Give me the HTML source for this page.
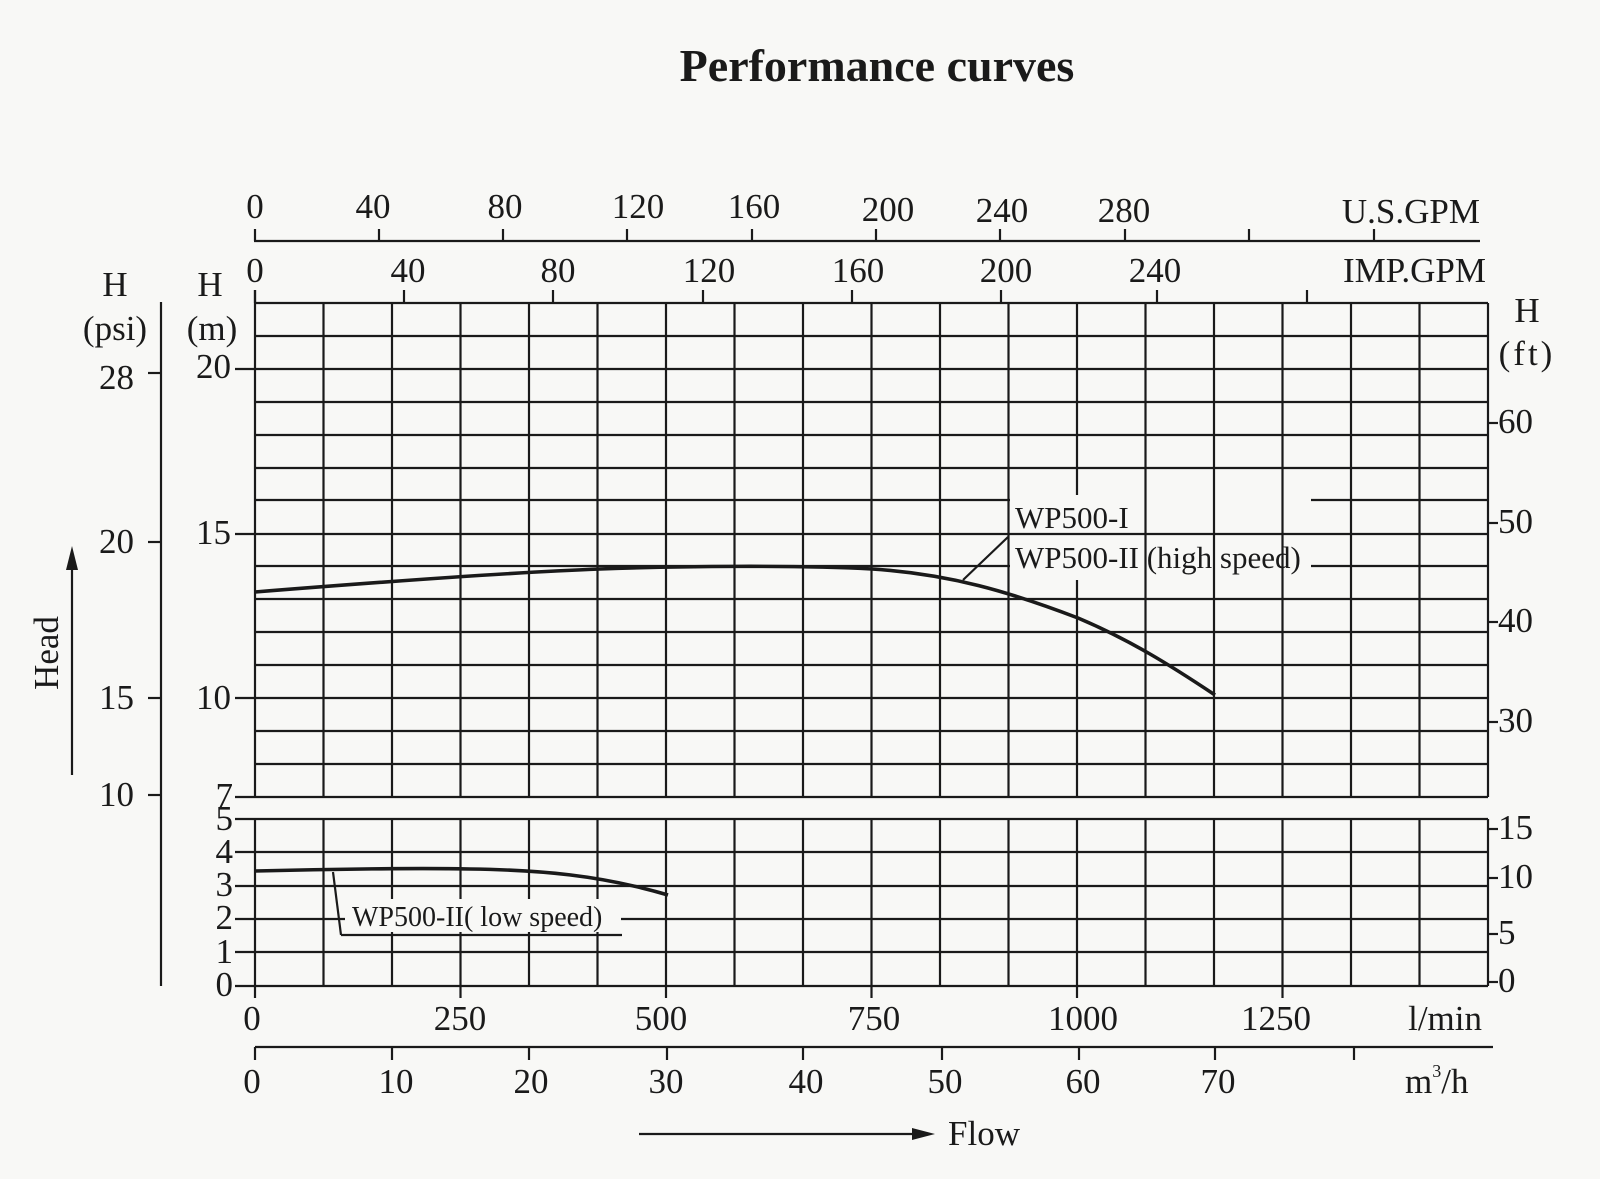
<!DOCTYPE html>
<html><head><meta charset="utf-8"><style>
html,body{margin:0;padding:0;background:#f8f8f6;}
svg{display:block;}
text{font-family:"Liberation Serif",serif;fill:#1a1a1a;}
</style></head><body>
<svg width="1600" height="1179" viewBox="0 0 1600 1179" xmlns="http://www.w3.org/2000/svg">
<rect width="1600" height="1179" fill="#f8f8f6"/>
<text x="877" y="81" font-size="46" font-weight="bold" text-anchor="middle">Performance curves</text>
<g stroke="#1a1a1a" stroke-width="2.2" fill="none">
<line x1="254" y1="241" x2="1480" y2="241"/>
<line x1="255" y1="229" x2="255" y2="241"/><line x1="379" y1="229" x2="379" y2="241"/><line x1="503" y1="229" x2="503" y2="241"/><line x1="627" y1="229" x2="627" y2="241"/><line x1="752" y1="229" x2="752" y2="241"/><line x1="876" y1="229" x2="876" y2="241"/><line x1="1000" y1="229" x2="1000" y2="241"/><line x1="1125" y1="229" x2="1125" y2="241"/><line x1="1249" y1="229" x2="1249" y2="241"/><line x1="1374" y1="229" x2="1374" y2="241"/>
<line x1="255" y1="290" x2="255" y2="303"/><line x1="404" y1="290" x2="404" y2="303"/><line x1="553" y1="290" x2="553" y2="303"/><line x1="703" y1="290" x2="703" y2="303"/><line x1="852" y1="290" x2="852" y2="303"/><line x1="1001" y1="290" x2="1001" y2="303"/><line x1="1157" y1="290" x2="1157" y2="303"/><line x1="1307" y1="290" x2="1307" y2="303"/>
<line x1="255" y1="303" x2="1488" y2="303"/>
<line x1="255" y1="336" x2="1488" y2="336"/>
<line x1="235" y1="369" x2="1488" y2="369"/>
<line x1="255" y1="402" x2="1488" y2="402"/>
<line x1="255" y1="435" x2="1488" y2="435"/>
<line x1="255" y1="468" x2="1488" y2="468"/>
<line x1="255" y1="500" x2="1010" y2="500"/><line x1="1311" y1="500" x2="1488" y2="500"/>
<line x1="235" y1="534" x2="1488" y2="534"/>
<line x1="255" y1="566" x2="1010" y2="566"/><line x1="1311" y1="566" x2="1488" y2="566"/>
<line x1="255" y1="599" x2="1488" y2="599"/>
<line x1="255" y1="632" x2="1488" y2="632"/>
<line x1="255" y1="665" x2="1488" y2="665"/>
<line x1="235" y1="698" x2="1488" y2="698"/>
<line x1="255" y1="731" x2="1488" y2="731"/>
<line x1="255" y1="764" x2="1488" y2="764"/>
<line x1="235" y1="797" x2="1488" y2="797"/>
<line x1="235" y1="819" x2="1488" y2="819"/>
<line x1="235" y1="852" x2="1488" y2="852"/>
<line x1="235" y1="886" x2="1488" y2="886"/>
<line x1="235" y1="919" x2="1488" y2="919"/>
<line x1="235" y1="952" x2="1488" y2="952"/>
<line x1="235" y1="986" x2="1488" y2="986"/>
<line x1="255" y1="290" x2="255" y2="797"/>
<line x1="323.5" y1="303" x2="323.5" y2="797"/>
<line x1="392" y1="303" x2="392" y2="797"/>
<line x1="460.5" y1="303" x2="460.5" y2="797"/>
<line x1="529" y1="303" x2="529" y2="797"/>
<line x1="597.5" y1="303" x2="597.5" y2="797"/>
<line x1="666" y1="303" x2="666" y2="797"/>
<line x1="734.5" y1="303" x2="734.5" y2="797"/>
<line x1="803" y1="303" x2="803" y2="797"/>
<line x1="871.5" y1="303" x2="871.5" y2="797"/>
<line x1="940" y1="303" x2="940" y2="797"/>
<line x1="1008.5" y1="303" x2="1008.5" y2="797"/>
<line x1="1077" y1="303" x2="1077" y2="495"/><line x1="1077" y1="580" x2="1077" y2="797"/>
<line x1="1145.5" y1="303" x2="1145.5" y2="797"/>
<line x1="1214" y1="303" x2="1214" y2="797"/>
<line x1="1282.5" y1="303" x2="1282.5" y2="797"/>
<line x1="1351" y1="303" x2="1351" y2="797"/>
<line x1="1419.5" y1="303" x2="1419.5" y2="797"/>
<line x1="1488" y1="303" x2="1488" y2="797"/>
<line x1="255" y1="819" x2="255" y2="998"/>
<line x1="323.5" y1="819" x2="323.5" y2="986"/>
<line x1="392" y1="819" x2="392" y2="986"/>
<line x1="460.5" y1="819" x2="460.5" y2="998"/>
<line x1="529" y1="819" x2="529" y2="986"/>
<line x1="597.5" y1="819" x2="597.5" y2="986"/>
<line x1="666" y1="819" x2="666" y2="998"/>
<line x1="734.5" y1="819" x2="734.5" y2="986"/>
<line x1="803" y1="819" x2="803" y2="986"/>
<line x1="871.5" y1="819" x2="871.5" y2="998"/>
<line x1="940" y1="819" x2="940" y2="986"/>
<line x1="1008.5" y1="819" x2="1008.5" y2="986"/>
<line x1="1077" y1="819" x2="1077" y2="998"/>
<line x1="1145.5" y1="819" x2="1145.5" y2="986"/>
<line x1="1214" y1="819" x2="1214" y2="986"/>
<line x1="1282.5" y1="819" x2="1282.5" y2="998"/>
<line x1="1351" y1="819" x2="1351" y2="986"/>
<line x1="1419.5" y1="819" x2="1419.5" y2="986"/>
<line x1="1488" y1="819" x2="1488" y2="986"/>
<line x1="161" y1="302" x2="161" y2="986"/>
<line x1="148" y1="373" x2="161" y2="373"/><line x1="148" y1="542" x2="161" y2="542"/><line x1="148" y1="698" x2="161" y2="698"/><line x1="148" y1="795" x2="161" y2="795"/>
<line x1="1488" y1="423" x2="1498" y2="423"/><line x1="1488" y1="523" x2="1498" y2="523"/><line x1="1488" y1="622" x2="1498" y2="622"/><line x1="1488" y1="722" x2="1498" y2="722"/>
<line x1="1488" y1="829" x2="1498" y2="829"/><line x1="1488" y1="878" x2="1498" y2="878"/><line x1="1488" y1="934" x2="1498" y2="934"/><line x1="1488" y1="982" x2="1498" y2="982"/>
<line x1="255" y1="1047" x2="1493" y2="1047"/>
<line x1="255" y1="1047" x2="255" y2="1060"/><line x1="392" y1="1047" x2="392" y2="1060"/><line x1="529" y1="1047" x2="529" y2="1060"/><line x1="667" y1="1047" x2="667" y2="1060"/><line x1="803" y1="1047" x2="803" y2="1060"/><line x1="942" y1="1047" x2="942" y2="1060"/><line x1="1079" y1="1047" x2="1079" y2="1060"/><line x1="1215" y1="1047" x2="1215" y2="1060"/><line x1="1354" y1="1047" x2="1354" y2="1060"/>
<line x1="639" y1="1134" x2="915" y2="1134"/>
<line x1="72" y1="775" x2="72" y2="565"/>
<line x1="1008" y1="537" x2="963" y2="580"/>
<line x1="333" y1="872" x2="341" y2="935"/><line x1="341" y1="935" x2="622" y2="935"/>
</g>
<polygon points="935,1134 912,1128 912,1140" fill="#1a1a1a"/>
<polygon points="72,546 66,570 78,570" fill="#1a1a1a"/>
<rect x="345" y="899" width="276" height="33" fill="#f8f8f6"/>
<path d="M255,592 C380,582 520,572 600,569 C680,566 800,565 872,569 C950,574 1010,592 1078,618 C1130,640 1170,665 1215,695" stroke="#1a1a1a" stroke-width="3.6" fill="none"/>
<path d="M255,871 C330,869 420,868 470,869 C540,870 600,875 668,895" stroke="#1a1a1a" stroke-width="3.6" fill="none"/>
<g font-size="35">
<text x="255" y="218" text-anchor="middle">0</text><text x="373" y="218" text-anchor="middle">40</text><text x="505" y="218" text-anchor="middle">80</text><text x="638" y="218" text-anchor="middle">120</text><text x="754" y="218" text-anchor="middle">160</text><text x="888" y="221" text-anchor="middle">200</text><text x="1002" y="222" text-anchor="middle">240</text><text x="1124" y="222" text-anchor="middle">280</text>
<text x="1480" y="223" text-anchor="end">U.S.GPM</text>
<text x="255" y="282" text-anchor="middle">0</text><text x="408" y="282" text-anchor="middle">40</text><text x="558" y="282" text-anchor="middle">80</text><text x="709" y="282" text-anchor="middle">120</text><text x="858" y="282" text-anchor="middle">160</text><text x="1006" y="282" text-anchor="middle">200</text><text x="1155" y="282" text-anchor="middle">240</text>
<text x="1486" y="282" text-anchor="end">IMP.GPM</text>
<text x="115" y="296" text-anchor="middle">H</text><text x="115" y="340" text-anchor="middle">(psi)</text>
<text x="210" y="296" text-anchor="middle">H</text><text x="212" y="340" text-anchor="middle">(m)</text>
<text x="1527" y="322" text-anchor="middle">H</text><text x="1527" y="365" text-anchor="middle" letter-spacing="3">(ft)</text>
<text x="134" y="389" text-anchor="end">28</text><text x="134" y="553" text-anchor="end">20</text><text x="134" y="709" text-anchor="end">15</text><text x="134" y="806" text-anchor="end">10</text>
<text x="231" y="378" text-anchor="end">20</text><text x="231" y="544" text-anchor="end">15</text><text x="231" y="709" text-anchor="end">10</text><text x="233" y="807" text-anchor="end">7</text>
<text x="233" y="830" text-anchor="end">5</text><text x="233" y="863" text-anchor="end">4</text><text x="233" y="896" text-anchor="end">3</text><text x="233" y="929" text-anchor="end">2</text><text x="233" y="963" text-anchor="end">1</text><text x="233" y="996" text-anchor="end">0</text>
<text x="1498" y="433">60</text><text x="1498" y="533">50</text><text x="1498" y="632">40</text><text x="1498" y="732">30</text>
<text x="1498" y="839">15</text><text x="1498" y="888">10</text><text x="1498" y="944">5</text><text x="1498" y="992">0</text>
<text x="252" y="1030" text-anchor="middle">0</text><text x="460" y="1030" text-anchor="middle">250</text><text x="661" y="1030" text-anchor="middle">500</text><text x="874" y="1030" text-anchor="middle">750</text><text x="1083" y="1030" text-anchor="middle">1000</text><text x="1276" y="1030" text-anchor="middle">1250</text>
<text x="1482" y="1030" text-anchor="end">l/min</text>
<text x="252" y="1093" text-anchor="middle">0</text><text x="396" y="1093" text-anchor="middle">10</text><text x="531" y="1093" text-anchor="middle">20</text><text x="666" y="1093" text-anchor="middle">30</text><text x="806" y="1093" text-anchor="middle">40</text><text x="945" y="1093" text-anchor="middle">50</text><text x="1083" y="1093" text-anchor="middle">60</text><text x="1218" y="1093" text-anchor="middle">70</text>
<text x="1405" y="1093">m<tspan font-size="18" dy="-16">3</tspan><tspan dy="16">/h</tspan></text>
<text x="948" y="1145">Flow</text>
<text transform="translate(58,653) rotate(-90)" text-anchor="middle">Head</text>
</g>
<text x="1015" y="528" font-size="31">WP500-I</text>
<text x="1015" y="568" font-size="31">WP500-II (high speed)</text>
<text x="352" y="926" font-size="28">WP500-II( low speed)</text>
</svg>
</body></html>
